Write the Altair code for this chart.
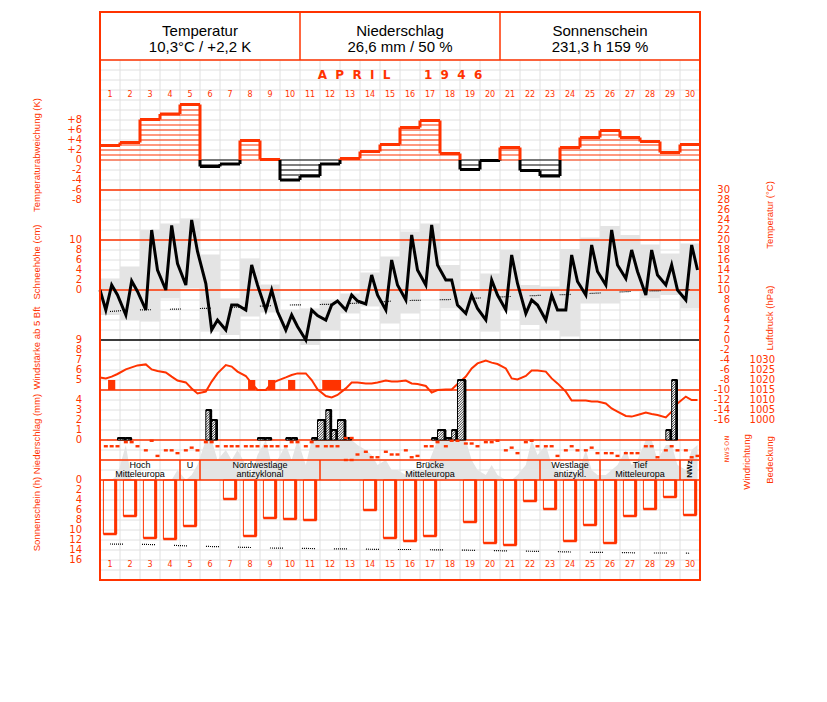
import altair as alt
import pandas as pd

# ---------------- data ----------------
days = list(range(1, 31))
obs_hours = [7, 14, 21]

header_titles = ["Temperatur", "Niederschlag", "Sonnenschein"]
header_values = ["10,3°C / +2,2 K", "26,6 mm / 50 %", "231,3 h 159 %"]
month_word = "APRIL"
year_word = "1946"

temp_dev = [2.9, 3.5, 8.1, 9.2, 11.1, -1.3, -0.8, 3.9, 0.1, -4.0,
            -3.2, -0.8, 0.3, 1.7, 3.1, 6.5, 7.9, 1.3, -1.9, -0.1,
            2.5, -2.1, -3.2, 2.5, 4.5, 5.9, 4.5, 3.7, 1.5, 3.1]

temp_start = 10.0
temp_obs = [6.0, 11.0, 9.0, 5.0, 11.8, 9.7, 6.0, 22.0, 14.0, 10.0, 22.9, 15.3,
            11.0, 24.0, 17.7, 11.3, 2.0, 4.0, 2.0, 7.0, 7.0, 6.0, 15.0, 11.0,
            6.0, 10.0, 5.7, 2.0, 5.0, 2.7, 0.0, 6.0, 4.9, 4.0, 7.0, 7.8,
            6.0, 9.0, 7.8, 7.2, 13.0, 9.0, 6.0, 16.0, 11.0, 8.0, 21.0, 14.0,
            11.0, 23.0, 15.0, 12.0, 12.0, 7.0, 5.3, 9.0, 6.3, 4.0, 12.0, 9.0,
            6.0, 17.0, 11.3, 5.3, 8.0, 7.0, 4.0, 9.0, 6.0, 6.0, 17.0, 11.7,
            9.0, 19.0, 13.7, 11.0, 22.0, 15.0, 12.3, 18.0, 13.7, 9.0, 18.0, 13.0,
            11.0, 15.0, 10.0, 8.0, 19.0, 14.0]
temp_max = [12.3, 14.7, 22.0, 23.3, 24.3, 17.1, 8.3, 16.3, 11.1, 6.0,
            6.3, 8.0, 9.3, 13.5, 16.7, 21.7, 23.3, 15.0, 10.0, 13.3,
            18.0, 11.0, 10.7, 18.2, 20.5, 22.8, 21.0, 19.1, 17.3, 19.3]
temp_min = [5.0, 4.0, 3.7, 8.3, 10.3, 1.7, 1.0, 4.7, 5.5, 0.0,
            -1.0, 2.0, 5.3, 6.7, 3.3, 5.3, 10.0, 6.3, 4.0, 1.7,
            6.0, 3.0, 2.0, 0.7, 7.3, 7.3, 9.7, 8.3, 9.0, 6.3]
temp_normal = [5.7, 6.0, 6.05, 6.15, 6.25, 6.35, 6.5, 6.7, 6.85, 7.0,
               7.05, 7.15, 7.3, 7.5, 7.75, 7.9, 8.0, 8.1, 8.3, 8.5,
               8.7, 8.85, 9.0, 9.1, 9.3, 9.5, 9.7, 9.8, 9.9, 10.1]

pressure_start = 1021.3
pressure = [1020.8, 1021.7, 1023.0, 1025.3, 1026.3, 1027.3, 1027.8, 1025.3, 1024.5,
            1023.8, 1021.7, 1019.7, 1018.8, 1015.8, 1013.3, 1014.2, 1019.2, 1023.3,
            1027.5, 1026.7, 1024.2, 1022.0, 1018.3, 1015.0, 1015.0, 1018.3, 1019.7,
            1021.3, 1022.5, 1023.3, 1023.3, 1020.0, 1015.3, 1012.0, 1011.3, 1012.5,
            1015.8, 1018.7, 1018.7, 1018.3, 1018.3, 1018.8, 1019.7, 1019.2, 1019.2,
            1019.7, 1018.3, 1018.0, 1017.0, 1013.7, 1015.0, 1015.3, 1015.3, 1018.0,
            1021.7, 1025.8, 1028.3, 1029.7, 1028.7, 1028.0, 1025.8, 1020.8, 1020.3,
            1022.0, 1024.7, 1024.7, 1024.2, 1020.8, 1018.3, 1014.2, 1009.7, 1009.7,
            1009.7, 1009.2, 1009.2, 1008.3, 1005.8, 1004.2, 1002.0, 1001.7, 1002.5,
            1003.7, 1003.0, 1002.5, 1001.3, 1004.2, 1008.3, 1011.7, 1010.0, 1010.0]

wind_day = [1, 8, 9, 10, 12, 12, 12]
wind_hour = [14, 14, 14, 14, 7, 14, 21]
wind_bft = [5, 5, 5, 5, 5, 5, 5]

precip_day = [2, 2, 6, 6, 9, 9, 10, 10, 11, 12, 12, 12, 13, 13, 17, 18, 18, 18, 19, 29, 29]
precip_hour = [7, 14, 14, 21, 7, 14, 14, 21, 21, 7, 14, 21, 7, 14, 21, 7, 14, 21, 7, 14, 21]
precip_mm = [0.2, 0.2, 3.0, 2.0, 0.2, 0.2, 0.2, 0.2, 0.2, 2.0, 3.0, 1.0, 2.0, 0.2,
             0.2, 1.0, 0.2, 1.0, 6.0, 1.0, 6.0]

wind_dir = [135, 135, 135, 68, 68, 135, 202, 45, 293, 202, 202, 248,
            202, 158, 202, 68, 68, 135, 135, 135, 135, 135, 135, 135,
            135, 135, 135, 135, 68, 68, 135, 68, 135, 135, 135, 135,
            360, 360, 270, 225, 315, 315, 225, 270, 270, 202, 315, 293,
            135, 135, 68, 135, 45, 45, 90, 90, 135, 68, 68, 45,
            202, 158, 248, 68, 45, 135, 135, 135, 293, 202, 135, 202,
            202, 158, 248, 248, 248, 293, 248, 248, 248, 135, 135, 315,
            202, 135, 202, 202, 315, 293]

cloud = [0, 0, 1, 7, 0, 0, 0, 0, 0, 0, 0, 2, 0, 1, 3, 8, 8, 4, 6, 4, 6,
         3, 1, 5, 8, 3, 4, 7, 4, 8, 3, 8, 8, 8, 8, 8, 8, 8, 7, 6, 5, 3,
         4, 2, 2, 1, 2, 2, 2, 5, 8, 8, 8, 8, 8, 4, 2, 1, 3, 1, 0, 0, 1,
         3, 8, 5, 7, 3, 2, 1, 2, 1, 6, 2, 1, 1, 2, 3, 6, 3, 4, 8, 8, 4,
         7, 7, 3, 2, 6, 7]

sunshine = [10.8, 7.2, 11.6, 11.8, 9.2, 0.0, 3.8, 11.2, 7.6, 7.8,
            8.0, 0.0, 0.0, 6.0, 11.6, 12.2, 11.2, 0.0, 8.4, 12.6,
            13.0, 4.2, 5.8, 12.2, 9.0, 12.6, 7.2, 5.8, 3.4, 7.0]
sun_possible = [12.8, 12.85, 12.9, 13.05, 13.2, 13.3, 13.4, 13.5, 13.6, 13.65,
                13.7, 13.75, 13.8, 13.85, 13.9, 13.9, 13.95, 14.0, 14.05, 14.1,
                14.2, 14.25, 14.3, 14.4, 14.45, 14.5, 14.55, 14.6, 14.6, 14.65]

wt_first = [1, 5, 6, 12, 23, 26, 30]
wt_last = [4, 5, 11, 22, 25, 29, 30]
wt_line1 = ["Hoch", "U", "Nordwestlage", "Brücke", "Westlage", "Tief", ""]
wt_line2 = ["Mitteleuropa", "", "antizyklonal", "Mitteleuropa", "antizykl.", "Mitteleuropa", ""]
wt_short = "NWz"

dev_ticks = [8, 6, 4, 2, 0, -2, -4, -6, -8]
dev_tick_text = ["+8", "+6", "+4", "+2", "0", "-2", "-4", "-6", "-8"]
snow_ticks = [10, 8, 6, 4, 2, 0]
wind_ticks = [9, 8, 7, 6, 5]
precip_ticks = [4, 3, 2, 1, 0]
sun_ticks = [0, 2, 4, 6, 8, 10, 12, 14, 16]
temp_ticks = list(range(30, -18, -2))
press_ticks = [1030, 1025, 1020, 1015, 1010, 1005, 1000]
dir_ticks = [0, 90, 180, 270, 360]
dir_text = ["N", "O", "S", "W", "N"]

# ---------------- layout / style ----------------
ORANGE = "#ff3300"
GRIDC = "#e0e0e0"
SHADE = "#e4e4e4"
TXT = "Liberation Sans"
LAB = "DejaVu Sans"
NB = "\u00a0"
TOP, HGT = 12, 568


def up(v, y_img, ppu):
    y0 = y_img - TOP
    return alt.Scale(domain=[v - (HGT - y0) / ppu, v + y0 / ppu], nice=False, zero=False)


def down(v, y_img, ppu):
    y0 = y_img - TOP
    return alt.Scale(domain=[v - y0 / ppu, v + (HGT - y0) / ppu], reverse=True, nice=False, zero=False)


X = alt.Scale(domain=[0, 30], nice=False, zero=False)
S_GRID = down(0, 60, 10)
S_DEV = up(0, 160, 5)
S_T = up(0, 340, 5)
S_SNOW = up(0, 290, 5)
S_WIND = up(4, 390, 10)
S_P = up(1000, 420, 2)
S_PR = up(0, 440, 10)
S_DIR = down(0, 438, 22 / 360)
S_CL = up(0, 480, 5)
S_SUN = down(0, 480, 5)


def ex(f):
    return alt.X(f, type="quantitative", scale=X, axis=None)


def ey(f, sc):
    return alt.Y(f, type="quantitative", scale=sc, axis=None)


def tq(d, h):
    return d - 1 + h / 24.0


obs = [(d, h) for d in days for h in obs_hours]
t_obs = [tq(d, h) for d, h in obs]

layers = []

# grid
layers.append(alt.Chart(pd.DataFrame({"k": list(range(53)), "a": 0, "b": 30}))
              .mark_rule(color=GRIDC, strokeWidth=1)
              .encode(x=ex("a"), x2="b:Q", y=ey("k", S_GRID)))
layers.append(alt.Chart(pd.DataFrame({"d": list(range(31))}))
              .mark_rule(color=GRIDC, strokeWidth=1)
              .encode(x=ex("d"), y=alt.value(48), y2=alt.value(HGT)))

# cloud cover (grey area)
layers.append(alt.Chart(pd.DataFrame({"t": t_obs, "c": cloud, "z": 0}))
              .mark_area(color=SHADE, interpolate="linear")
              .encode(x=ex("t"), y=ey("c", S_CL), y2="z:Q"))

# temperature range band
layers.append(alt.Chart(pd.DataFrame({"a": [d - 1 for d in days], "b": days,
                                      "lo": temp_min, "hi": temp_max}))
              .mark_rect(color=SHADE)
              .encode(x=ex("a"), x2="b:Q", y=ey("lo", S_T), y2="hi:Q"))

# panel separator lines (orange) and 0 °C line (black)
sep_rows = [0, 13, 18, 23, 33, 38, 40, 42]
layers.append(alt.Chart(pd.DataFrame({"k": sep_rows, "a": 0, "b": 30}))
              .mark_rule(color=ORANGE, strokeWidth=1.5)
              .encode(x=ex("a"), x2="b:Q", y=ey("k", S_GRID)))
layers.append(alt.Chart(pd.DataFrame({"v": [0], "a": [0], "b": [30]}))
              .mark_rule(color="black", strokeWidth=1.5)
              .encode(x=ex("a"), x2="b:Q", y=ey("v", S_T)))

# header
layers.append(alt.Chart(pd.DataFrame({"x": [10, 20]}))
              .mark_rule(color=ORANGE, strokeWidth=1.5)
              .encode(x=ex("x"), y=alt.value(0), y2=alt.value(48)))
hdr = pd.DataFrame({"x": [5, 15, 25], "t": header_titles, "v": header_values})
layers.append(alt.Chart(hdr).mark_text(font=TXT, fontSize=15, color="black", baseline="middle")
              .encode(x=ex("x"), y=alt.value(19), text="t:N"))
layers.append(alt.Chart(hdr).mark_text(font=TXT, fontSize=15, color="black", baseline="middle")
              .encode(x=ex("x"), y=alt.value(35), text="v:N"))
month_title = (NB * 2).join(month_word) + NB * 8 + (NB * 2).join(year_word)
layers.append(alt.Chart(pd.DataFrame({"x": [15], "s": [month_title]}))
              .mark_text(font=LAB, fontSize=12, fontWeight="bold", color=ORANGE, baseline="middle")
              .encode(x=ex("x"), y=alt.value(63), text="s:N"))
dnum = pd.DataFrame({"x": [d - 0.5 for d in days], "s": [str(d) for d in days]})
for yy in (83, 553):
    layers.append(alt.Chart(dnum).mark_text(font=LAB, fontSize=8, color=ORANGE, baseline="middle")
                  .encode(x=ex("x"), y=alt.value(yy), text="s:N"))

# temperature deviation steps with hatching
hatch_pos, hatch_neg, top_pos, top_neg, vert_pos, vert_neg = [], [], [], [], [], []
for d, v in zip(days, temp_dev):
    sgn = 1 if v >= 0 else -1
    k = 0
    while abs(k) <= abs(v):
        (hatch_pos if v >= 0 else hatch_neg).append({"a": d - 1, "b": d, "y": k})
        k += sgn
    (top_pos if v >= 0 else top_neg).append({"a": d - 1, "b": d, "y": v})
for i in range(1, 30):
    a, b = temp_dev[i - 1], temp_dev[i]
    lo, hi = min(a, b), max(a, b)
    if hi > 0 and max(lo, 0) < hi:
        vert_pos.append({"x": i, "y": max(lo, 0), "y2": hi})
    if lo < 0 and lo < min(hi, 0):
        vert_neg.append({"x": i, "y": lo, "y2": min(hi, 0)})
for rows, col, w in ((hatch_pos, ORANGE, 1), (hatch_neg, "black", 1),
                     (top_pos, ORANGE, 3), (top_neg, "black", 3)):
    layers.append(alt.Chart(pd.DataFrame(rows)).mark_rule(color=col, strokeWidth=w)
                  .encode(x=ex("a"), x2="b:Q", y=ey("y", S_DEV)))
for rows, col in ((vert_pos, ORANGE), (vert_neg, "black")):
    layers.append(alt.Chart(pd.DataFrame(rows)).mark_rule(color=col, strokeWidth=3)
                  .encode(x=ex("x"), y=ey("y", S_DEV), y2="y2:Q"))

# temperature: normal (dotted) and observations
layers.append(alt.Chart(pd.DataFrame({"t": [d - 0.5 for d in days], "v": temp_normal}))
              .mark_line(color="black", strokeWidth=1.2,
                         strokeDash=[1, 1, 1, 1, 1, 1, 1, 1, 1, 1, 1, 19])
              .encode(x=ex("t"), y=ey("v", S_T)))
layers.append(alt.Chart(pd.DataFrame({"t": [0.0] + t_obs, "v": [temp_start] + temp_obs}))
              .mark_line(color="black", strokeWidth=3)
              .encode(x=ex("t"), y=ey("v", S_T)))

# wind >= 5 Bft bars and pressure
wt = [tq(d, h) for d, h in zip(wind_day, wind_hour)]
layers.append(alt.Chart(pd.DataFrame({"a": [t - 0.18 for t in wt], "b": [t + 0.18 for t in wt],
                                      "base": 4, "v": wind_bft}))
              .mark_rect(color=ORANGE)
              .encode(x=ex("a"), x2="b:Q", y=ey("base", S_WIND), y2="v:Q"))
layers.append(alt.Chart(pd.DataFrame({"t": [0.0] + t_obs, "p": [pressure_start] + pressure}))
              .mark_line(color=ORANGE, strokeWidth=2)
              .encode(x=ex("t"), y=ey("p", S_P)))

# precipitation bars with hatching
bars = []
for d, h, mm in zip(precip_day, precip_hour, precip_mm):
    i = obs.index((d, h))
    s = t_obs[i - 1] if i > 0 else -0.125
    bars.append((s, t_obs[i], mm))
PXD, PXM = 20.0, 10.0
hatch = []
for s, e, mm in bars:
    Wp, Hp = (e - s) * PXD, mm * PXM
    c = -Wp + 1.0
    while c < Hp:
        xa, xb = max(0.0, -c), min(Wp, Hp - c)
        if xb > xa:
            hatch.append({"a": s + xa / PXD, "b": s + xb / PXD,
                          "y": (xa + c) / PXM, "y2": (xb + c) / PXM})
        c += 2.5
bdf = pd.DataFrame({"a": [b[0] for b in bars], "b": [b[1] for b in bars],
                    "r": [b[1] - 0.05 for b in bars], "z": 0, "v": [b[2] for b in bars]})
layers.append(alt.Chart(bdf).mark_rect(fill="white", stroke="black", strokeWidth=1)
              .encode(x=ex("a"), x2="b:Q", y=ey("z", S_PR), y2="v:Q"))
layers.append(alt.Chart(pd.DataFrame(hatch)).mark_rule(color="black", strokeWidth=0.8)
              .encode(x=ex("a"), x2="b:Q", y=ey("y", S_PR), y2="y2:Q"))
layers.append(alt.Chart(bdf).mark_rule(color="black", strokeWidth=2.5)
              .encode(x=ex("r"), y=ey("z", S_PR), y2="v:Q"))
layers.append(alt.Chart(bdf).mark_rule(color="black", strokeWidth=2)
              .encode(x=ex("a"), x2="b:Q", y=ey("v", S_PR)))

# wind direction dots (north shown at both ends)
dir_t, dir_v = [], []
for t, v in zip(t_obs, wind_dir):
    if v in (0, 360):
        dir_t += [t, t]
        dir_v += [0, 360]
    else:
        dir_t.append(t)
        dir_v.append(v)
layers.append(alt.Chart(pd.DataFrame({"t": dir_t, "v": dir_v}))
              .mark_point(shape="M-1,-0.6L1,-0.6L1,0.6L-1,0.6Z", filled=True, size=16,
                          color=ORANGE, opacity=1)
              .encode(x=ex("t"), y=ey("v", S_DIR)))

# weather type band
layers.append(alt.Chart(pd.DataFrame({"x": wt_last[:-1]}))
              .mark_rule(color=ORANGE, strokeWidth=1.5)
              .encode(x=ex("x"), y=alt.value(448), y2=alt.value(468)))
wdf = pd.DataFrame({"x": [(f - 1 + l) / 2 for f, l in zip(wt_first, wt_last)],
                    "l1": wt_line1, "l2": wt_line2})
layers.append(alt.Chart(wdf).mark_text(font=TXT, fontSize=9, color="black", baseline="middle")
              .encode(x=ex("x"), y=alt.value(453), text="l1:N"))
layers.append(alt.Chart(wdf).mark_text(font=TXT, fontSize=9, color="black", baseline="middle")
              .encode(x=ex("x"), y=alt.value(462), text="l2:N"))
layers.append(alt.Chart(pd.DataFrame({"x": [29.5], "s": [wt_short]}))
              .mark_text(font=TXT, fontSize=8, fontWeight="bold", color="black", angle=270,
                         baseline="middle")
              .encode(x=ex("x"), y=alt.value(457), text="s:N"))

# sunshine bars
sdf = pd.DataFrame({"a": [d - 1 + 0.17 for d in days], "b": [d - 1 + 0.83 for d in days],
                    "r": [d - 1 + 0.78 for d in days], "z": 0, "v": sunshine})
sdf = sdf[sdf["v"] > 0]
layers.append(alt.Chart(sdf).mark_rect(fillOpacity=0, stroke=ORANGE, strokeWidth=1)
              .encode(x=ex("a"), x2="b:Q", y=ey("z", S_SUN), y2="v:Q"))
layers.append(alt.Chart(sdf).mark_rule(color=ORANGE, strokeWidth=3)
              .encode(x=ex("r"), y=ey("z", S_SUN), y2="v:Q"))
layers.append(alt.Chart(sdf).mark_rule(color=ORANGE, strokeWidth=2.5)
              .encode(x=ex("a"), x2="b:Q", y=ey("v", S_SUN)))
layers.append(alt.Chart(pd.DataFrame({"t": [d - 0.5 for d in days], "v": sun_possible}))
              .mark_line(color="black", strokeWidth=1.2,
                         strokeDash=[1, 1, 1, 1, 1, 1, 1, 1, 1, 1, 1, 1, 1, 19])
              .encode(x=ex("t"), y=ey("v", S_SUN)))

# frame
layers.append(alt.Chart(pd.DataFrame({"a": [0], "b": [30]}))
              .mark_rect(fillOpacity=0, stroke=ORANGE, strokeWidth=2)
              .encode(x=ex("a"), x2="b:Q", y=alt.value(0), y2=alt.value(HGT)))


# tick labels
def ticks(vals, texts, sc, xpx, size=10):
    df = pd.DataFrame({"v": vals, "s": texts})
    return (alt.Chart(df).mark_text(align="right", baseline="middle", font=LAB, fontSize=size,
                                    color=ORANGE)
            .encode(x=alt.value(xpx), y=ey("v", sc), text="s:N"))


layers.append(ticks(dev_ticks, dev_tick_text, S_DEV, -18))
layers.append(ticks(snow_ticks, [str(v) for v in snow_ticks], S_SNOW, -18))
layers.append(ticks(wind_ticks, [str(v) for v in wind_ticks], S_WIND, -18))
layers.append(ticks(precip_ticks, [str(v) for v in precip_ticks], S_PR, -18))
layers.append(ticks(sun_ticks, [str(v) for v in sun_ticks], S_SUN, -18))
layers.append(ticks(temp_ticks, [str(v) for v in temp_ticks], S_T, 630))
layers.append(ticks(press_ticks, [str(v) for v in press_ticks], S_P, 675))
layers.append(alt.Chart(pd.DataFrame({"v": dir_ticks, "s": dir_text}))
              .mark_text(align="center", baseline="middle", font=LAB, fontSize=6, color=ORANGE,
                         angle=270)
              .encode(x=alt.value(627), y=ey("v", S_DIR), text="s:N"))


def vtitle(text, xpx, ypx, size=9.5):
    return (alt.Chart(pd.DataFrame({"s": [text]}))
            .mark_text(angle=270, align="center", baseline="middle", font=TXT, fontSize=size,
                       color=ORANGE)
            .encode(x=alt.value(xpx), y=alt.value(ypx - TOP), text="s:N"))


layers.append(vtitle("Temperaturabweichung (K)", -63, 155))
layers.append(vtitle("Schneehöhe (cm)", -63, 262))
layers.append(vtitle("Windstärke ab 5 Bft", -63, 348))
layers.append(vtitle("Niederschlag (mm)", -63, 434))
layers.append(vtitle("Sonnenschein (h)", -63, 514))
layers.append(vtitle("Temperatur (°C)", 670, 215))
layers.append(vtitle("Luftdruck (hPa)", 670, 318))
layers.append(vtitle("Windrichtung", 647, 462))
layers.append(vtitle("Bedeckung", 670, 460))

chart = (alt.layer(*layers)
         .resolve_scale(y="independent")
         .properties(width=600, height=HGT, background="white",
                     autosize=alt.AutoSizeParams(type="none"),
                     padding={"left": 92, "top": 4, "right": 119, "bottom": 110})
         .configure_view(stroke=None))

chart.save("out.html", embed_options={"renderer": "svg", "actions": False})
